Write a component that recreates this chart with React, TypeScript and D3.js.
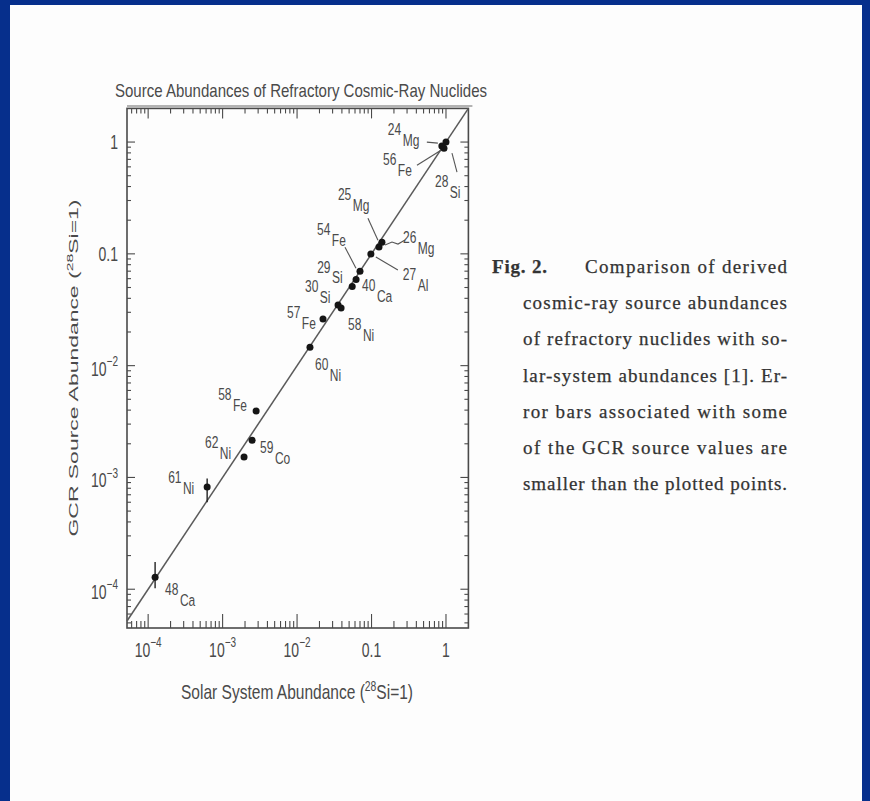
import React from "react";
import * as d3 from "d3";

// ---------------- data ----------------
const nuclideMass = ["24", "56", "28", "25", "26", "27", "54", "40", "29", "30", "58", "57", "60", "58", "59", "62", "61", "48"];
const nuclideElement = ["Mg", "Fe", "Si", "Mg", "Mg", "Al", "Fe", "Ca", "Si", "Si", "Ni", "Fe", "Ni", "Fe", "Co", "Ni", "Ni", "Ca"];
const solarAbundance = [0.88, 0.94, 1.0, 0.138, 0.126, 0.098, 0.07, 0.062, 0.055, 0.0355, 0.039, 0.0223, 0.0149, 0.00282, 0.00249, 0.00194, 0.00062, 0.000124];
const gcrAbundance = [0.92, 0.88, 1.0, 0.127, 0.115, 0.0995, 0.07, 0.059, 0.051, 0.0348, 0.0327, 0.0261, 0.0146, 0.00392, 0.00215, 0.00152, 0.00082, 0.000128];
const gcrErrLow: (number | null)[] = [null, null, null, null, null, null, null, null, null, null, null, null, null, null, null, null, 0.0006, 0.000102];
const gcrErrHigh: (number | null)[] = [null, null, null, null, null, null, null, null, null, null, null, null, null, null, null, null, 0.00098, 0.000175];

const decadeTicks = [1e-4, 1e-3, 1e-2, 0.1, 1];
const decadeLabels = ["10^-4", "10^-3", "10^-2", "0.1", "1"];

const chartTitle = "Source Abundances of Refractory Cosmic-Ray Nuclides";
const xTitle = "Solar System Abundance (";
const yTitle = "GCR Source Abundance (";
const captionLines = [
  "Comparison of derived",
  "cosmic-ray source abundances",
  "of refractory nuclides with so-",
  "lar-system abundances [1]. Er-",
  "ror bars associated with some",
  "of the GCR source values are",
  "smaller than the plotted points.",
];

// ---------------- layout ----------------
const W = 870;
const H = 801;
const plot = { left: 127, right: 468.4, top: 108.4, bottom: 628 };
const SY = 1.4; // vertical stretch of the scanned figure
const ink = "#4a4a4a";

// label offsets (px) relative to the point: number start / baseline
const labelOffset: [number, number][] = [
  [-54, -11], [-61, 17], [-11, 45], [-44, -42], [24, -4], [32, 26], [-43, -36], [6, 12],
  [-35, -14], [-33, -13], [7, 22], [-36, -1], [5, 23], [-38, -11], [8, 13], [-39, -9], [-39, -4], [10, 18],
];
// leader lines (px) relative to the point
const leaders: Record<number, [number, number][]> = {
  0: [[-15, -4], [-4, -3]],
  1: [[-27, 17], [-3, 2]],
  2: [[11, 30], [6, 11]],
  3: [[-14, -24], [-4, -2]],
  4: [[26, -7], [19, -3], [13, -5], [6, -2]],
  5: [[5, 3], [27, 16]],
  6: [[-15, -24], [-4, -3]],
};

function SText(props: any) {
  const { x, y, sy = SY, children, ...rest } = props;
  return (
    <text transform={`translate(${x},${y}) scale(1,${sy})`} {...rest}>
      {children}
    </text>
  );
}

function powLabel(s: string) {
  if (s.includes("^")) {
    const [b, e] = s.split("^");
    return (
      <>
        <tspan>{b}</tspan>
        <tspan dy={-7} fontSize={10}>{e.replace("-", "\u2212")}</tspan>
      </>
    );
  }
  return <tspan>{s}</tspan>;
}

export default function App() {
  const x = d3.scaleLog().domain([5.2e-5, 2]).range([plot.left, plot.right]);
  const y = d3.scaleLog().domain([4.5e-5, 2]).range([plot.bottom, plot.top]);

  const minorX: number[] = [];
  const minorY: number[] = [];
  for (let e = -5; e <= 0; e++) {
    for (let m = 2; m <= 9; m++) {
      const v = m * Math.pow(10, e);
      if (v > x.domain()[0] && v < x.domain()[1]) minorX.push(v);
      if (v > y.domain()[0] && v < y.domain()[1]) minorY.push(v);
    }
  }

  const lineData: [number, number][] = [
    [x.domain()[0], x.domain()[0]],
    [2, 2],
  ];
  const diag = d3
    .line<[number, number]>()
    .x((d) => x(d[0]))
    .y((d) => y(d[1]));

  const sansFont = "'Liberation Sans', Arial, sans-serif";
  const serifFont = "'Liberation Serif', 'Times New Roman', serif";

  const captionTop = 273;
  const captionStep = 36.2;

  return (
    <svg width={W} height={H} style={{ position: "absolute", left: 0, top: 0 }}>
      <rect x={0} y={0} width={W} height={H} fill="#062f8c" />
      <rect x={10} y={5} width={852} height={H - 5} fill="#fdfdfd" />

      {/* title */}
      <SText x={301} y={97} textAnchor="middle" fontFamily={sansFont} fontSize={13} fill={ink} textLength={372} lengthAdjust="spacingAndGlyphs">
        {chartTitle}
      </SText>

      {/* frame */}
      <rect x={plot.left} y={plot.top} width={plot.right - plot.left} height={plot.bottom - plot.top} fill="none" stroke={ink} strokeWidth={1.6} />
      <line x1={plot.left} x2={plot.right + 4} y1={plot.top - 2.5} y2={plot.top - 2.5} stroke="#9a9a9a" strokeWidth={1.5} />

      {/* ticks */}
      <g stroke={ink} strokeWidth={1.1}>
        {decadeTicks.map((t) => (
          <g key={"mx" + t}>
            <line x1={x(t)} x2={x(t)} y1={plot.bottom} y2={plot.bottom - 14} />
            <line x1={x(t)} x2={x(t)} y1={plot.top} y2={plot.top + 10} />
          </g>
        ))}
        {minorX.map((t) => (
          <g key={"nx" + t}>
            <line x1={x(t)} x2={x(t)} y1={plot.bottom} y2={plot.bottom - 7} />
            <line x1={x(t)} x2={x(t)} y1={plot.top} y2={plot.top + 5} />
          </g>
        ))}
        {decadeTicks.map((t) => (
          <g key={"my" + t}>
            <line x1={plot.left} x2={plot.left + 8} y1={y(t)} y2={y(t)} />
            <line x1={plot.right} x2={plot.right - 8} y1={y(t)} y2={y(t)} />
          </g>
        ))}
        {minorY.map((t) => (
          <g key={"ny" + t}>
            <line x1={plot.left} x2={plot.left + 4} y1={y(t)} y2={y(t)} />
            <line x1={plot.right} x2={plot.right - 4} y1={y(t)} y2={y(t)} />
          </g>
        ))}
      </g>

      {/* tick labels */}
      <g fontFamily={sansFont} fontSize={14} fill={ink}>
        {decadeTicks.map((t, i) => (
          <SText key={"xl" + t} x={x(t)} y={657} textAnchor="middle">
            {powLabel(decadeLabels[i])}
          </SText>
        ))}
        {decadeTicks.map((t, i) => (
          <SText key={"yl" + t} x={118} y={y(t) + (decadeLabels[i].includes("^") ? 10 : 7)} textAnchor="end">
            {powLabel(decadeLabels[i])}
          </SText>
        ))}
      </g>

      {/* axis titles */}
      <SText x={297} y={699} textAnchor="middle" fontFamily={sansFont} fontSize={15} fill={ink} textLength={232} lengthAdjust="spacingAndGlyphs">
        {xTitle}
        <tspan dy={-6} fontSize={10}>28</tspan>
        <tspan dy={6}>Si=1)</tspan>
      </SText>
      <text
        transform={`translate(78,368) rotate(-90)`}
        textAnchor="middle"
        fontFamily={sansFont}
        fontSize={13}
        fill={ink}
        textLength={337}
        lengthAdjust="spacingAndGlyphs"
      >
        {yTitle}
        <tspan dy={-5} fontSize={9}>28</tspan>
        <tspan dy={5}>Si=1)</tspan>
      </text>

      {/* y = x line */}
      <path d={diag(lineData) || ""} fill="none" stroke="#5a5a5a" strokeWidth={1.5} />

      {/* error bars */}
      <g stroke="#222" strokeWidth={1.4}>
        {gcrAbundance.map((g, i) =>
          gcrErrLow[i] != null && gcrErrHigh[i] != null ? (
            <line key={"e" + i} x1={x(solarAbundance[i])} x2={x(solarAbundance[i])} y1={y(gcrErrLow[i] as number)} y2={y(gcrErrHigh[i] as number)} />
          ) : null
        )}
      </g>

      {/* leader lines */}
      <g stroke="#555" strokeWidth={1.1} fill="none">
        {Object.keys(leaders).map((k) => {
          const i = +k;
          const px = x(solarAbundance[i]);
          const py = y(gcrAbundance[i]);
          const pts = leaders[i].map(([dx, dy]) => `${px + dx},${py + dy}`).join(" ");
          return <polyline key={"l" + i} points={pts} />;
        })}
      </g>

      {/* points */}
      <g fill="#151515">
        {gcrAbundance.map((g, i) => (
          <circle key={"p" + i} cx={x(solarAbundance[i])} cy={y(g)} r={3.5} />
        ))}
      </g>

      {/* point labels */}
      <g fontFamily={sansFont} fontSize={12} fill={ink}>
        {gcrAbundance.map((g, i) => (
          <SText key={"t" + i} x={x(solarAbundance[i]) + labelOffset[i][0]} y={y(g) + labelOffset[i][1]}>
            <tspan>{nuclideMass[i]}</tspan>
            <tspan dx={1.5} dy={7.5}>{nuclideElement[i]}</tspan>
          </SText>
        ))}
      </g>

      {/* caption */}
      <g fontFamily={serifFont} fontSize={19} fill="#333" stroke="#333" strokeWidth={0.25}>
        <text x={492} y={captionTop} fontWeight="bold" textLength={55} lengthAdjust="spacing">Fig. 2.</text>
        {captionLines.map((l, i) => (
          <text
            key={"c" + i}
            x={i === 0 ? 585 : 523}
            y={captionTop + i * captionStep}
            textLength={i === 0 ? 202 : 264}
            lengthAdjust="spacing"
          >
            {l}
          </text>
        ))}
      </g>
    </svg>
  );
}
